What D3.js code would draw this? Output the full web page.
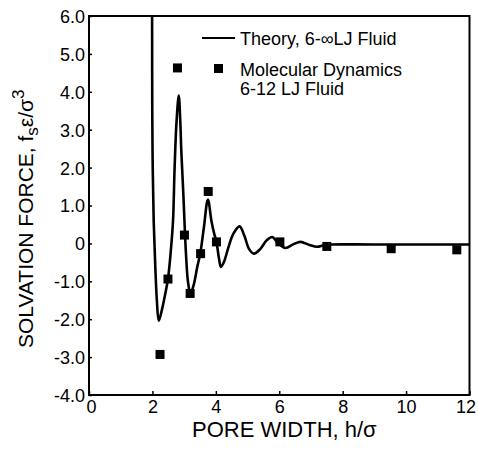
<!DOCTYPE html>
<html>
<head>
<meta charset="utf-8">
<script src="https://cdn.jsdelivr.net/npm/d3@7"></script>
<style>
  html, body { margin: 0; padding: 0; background: #fff; }
  svg { display: block; font-family: "Liberation Sans", Arial, Helvetica, sans-serif; }
</style>
</head>
<body>
<svg id="chart" width="478" height="452"></svg>
<script>
// Theory curve (6-∞ LJ fluid): pore width h/σ and solvation force
const theoryH = [1.99, 1.995, 2.01, 2.04, 2.09, 2.14, 2.20, 2.30, 2.40, 2.49, 2.58, 2.65, 2.70, 2.76, 2.83,
                 2.88, 2.91, 2.97, 3.02, 3.06, 3.12, 3.20, 3.30, 3.42, 3.51, 3.62, 3.75, 3.86, 3.95, 4.02,
                 4.10, 4.16, 4.25, 4.40, 4.55, 4.75, 4.90, 5.05, 5.20, 5.40, 5.60, 5.78, 5.95, 6.19, 6.45,
                 6.67, 6.95, 7.19, 7.40, 7.60, 9.00, 12.0];
const theoryF = [6.0, 3.5, 2.0, 0.6, -0.6, -1.5, -2.04, -1.75, -1.35, -0.94, -0.2, 0.6, 2.0, 3.2, 3.9,
                 3.2, 2.46, 1.4, 0.4, -0.3, -1.0, -1.33, -1.1, -0.6, -0.26, 0.4, 1.16, 0.6, 0.25, 0.04,
                 -0.4, -0.62, -0.5, -0.1, 0.25, 0.45, 0.2, -0.15, -0.27, -0.15, 0.08, 0.17, 0.02, -0.12, -0.02,
                 0.04, -0.04, -0.09, -0.05, -0.03, -0.03, -0.03];

// Molecular dynamics (6-12 LJ fluid) points
const mdH = [2.24, 2.49, 2.79, 3.01, 3.19, 3.52, 3.76, 4.02, 6.02, 7.50, 9.53, 11.60];
const mdF = [-2.93, -0.94, 4.63, 0.22, -1.32, -0.27, 1.37, 0.04, 0.04, -0.08, -0.14, -0.17];

// Axis ticks
const xTicks = [0, 2, 4, 6, 8, 10, 12];
const xTickLabels = ["0", "2", "4", "6", "8", "10", "12"];
const yTicks = [6, 5, 4, 3, 2, 1, 0, -1, -2, -3, -4];
const yTickLabels = ["6.0", "5.0", "4.0", "3.0", "2.0", "1.0", "0", "-1.0", "-2.0", "-3.0", "-4.0"];

const legendLabels = ["Theory, 6-\u221ELJ Fluid", "Molecular Dynamics", "6-12 LJ Fluid"];

const svg = d3.select("#chart");
const pL = 89, pR = 469.5, pT = 16, pB = 395;

const x = d3.scaleLinear().domain([0, 12]).range([pL, pR]);
const y = d3.scaleLinear().domain([-4, 6]).range([pB, pT]);

svg.append("rect").attr("width", 478).attr("height", 452).attr("fill", "#fff");

// clip
svg.append("clipPath").attr("id", "clip")
  .append("rect").attr("x", pL).attr("y", pT).attr("width", pR - pL).attr("height", pB - pT);

// Axes (inward ticks)
const xAxis = d3.axisBottom(x).tickValues(xTicks).tickSize(-4).tickPadding(5)
  .tickFormat((d, i) => xTickLabels[i]);
const gx = svg.append("g").attr("transform", `translate(0,${pB})`).call(xAxis);
gx.select(".domain").remove();
gx.selectAll(".tick line").attr("stroke", "#000").attr("stroke-width", 1.5);
gx.selectAll(".tick text").attr("font-size", 18).attr("fill", "#000")
  .attr("dy", "0.71em")
  .attr("dx", d => d === 12 ? -4 : (d === 0 ? 2 : 0));

const yAxis = d3.axisLeft(y).tickValues(yTicks).tickSize(-3).tickPadding(4)
  .tickFormat((d, i) => yTickLabels[i]);
const gy = svg.append("g").attr("transform", `translate(${pL},0)`).call(yAxis);
gy.select(".domain").remove();
gy.selectAll(".tick line").attr("stroke", "#000").attr("stroke-width", 1.5);
gy.selectAll(".tick text").attr("font-size", 18).attr("fill", "#000").attr("dy", "0.36em");

// Frame
svg.append("rect").attr("x", pL).attr("y", pT).attr("width", pR - pL).attr("height", pB - pT)
  .attr("fill", "none").attr("stroke", "#000").attr("stroke-width", 2);

// Theory curve
const theory = theoryH.map((h, i) => [h, theoryF[i]]);
const line = d3.line().x(d => x(d[0])).y(d => y(d[1])).curve(d3.curveCatmullRom.alpha(0.5));
svg.append("path").datum(theory).attr("clip-path", "url(#clip)")
  .attr("d", line).attr("fill", "none").attr("stroke", "#000").attr("stroke-width", 2.6)
  .attr("stroke-linejoin", "round");

// MD squares
const sq = 9;
svg.append("g").selectAll("rect").data(mdH.map((h, i) => [h, mdF[i]])).join("rect")
  .attr("x", d => x(d[0]) - sq / 2).attr("y", d => y(d[1]) - sq / 2)
  .attr("width", sq).attr("height", sq).attr("fill", "#000");

// Legend
const lg = svg.append("g").attr("font-size", 18).attr("fill", "#000");
lg.append("line").attr("x1", 202).attr("x2", 235).attr("y1", 38).attr("y2", 38)
  .attr("stroke", "#000").attr("stroke-width", 2.2);
lg.append("text").attr("x", 240).attr("y", 45).text(legendLabels[0]);
lg.append("rect").attr("x", 218.5 - sq / 2).attr("y", 68.5 - sq / 2).attr("width", sq).attr("height", sq).attr("fill", "#000");
lg.append("text").attr("x", 240).attr("y", 76).text(legendLabels[1]);
lg.append("text").attr("x", 240).attr("y", 95).text(legendLabels[2]);

// X title
svg.append("text").attr("x", 192).attr("y", 437).attr("font-size", 22).attr("fill", "#000")
  .text("PORE WIDTH, h/\u03C3");

// Y title
const yt = svg.append("text").attr("transform", "translate(33,348) rotate(-90)")
  .attr("font-size", 21).attr("fill", "#000");
yt.append("tspan").text("SOLVATION FORCE, f");
yt.append("tspan").attr("font-size", 17).attr("dy", 5).text("s");
yt.append("tspan").attr("dy", -5).text("\u03B5/\u03C3");
yt.append("tspan").attr("font-size", 17).attr("dy", -9).text("3");
</script>
</body>
</html>
